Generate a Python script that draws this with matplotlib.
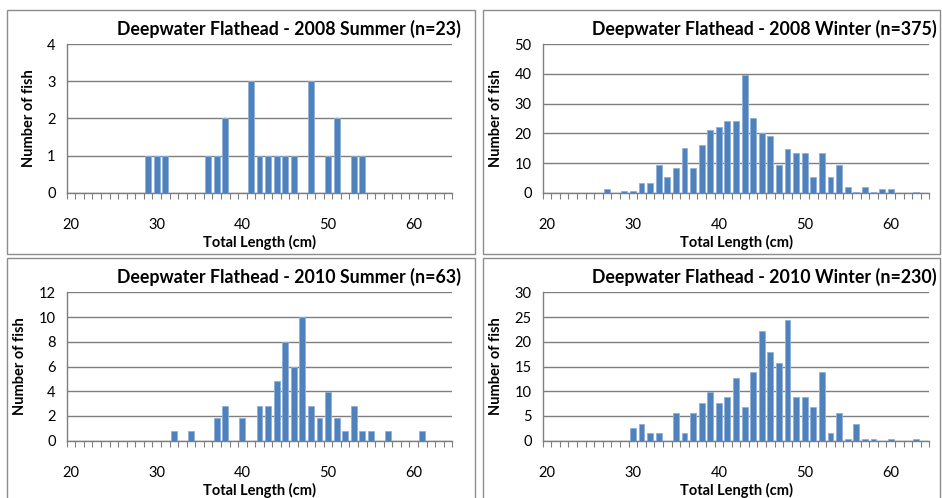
import matplotlib
matplotlib.use('Agg')
import matplotlib.pyplot as plt
from matplotlib.patches import Rectangle
import numpy as np

# 数据：体长 (cm) 与 鱼数
s2008_len = [29, 30, 31, 36, 37, 38, 41, 42, 43, 44, 45, 46, 48, 50, 51, 53, 54]
s2008_cnt = [1, 1, 1, 1, 1, 2, 3, 1, 1, 1, 1, 1, 3, 1, 2, 1, 1]

w2008_len = [27, 29, 30, 31, 32, 33, 34, 35, 36, 37, 38, 39, 40, 41, 42, 43, 44,
             45, 46, 47, 48, 49, 50, 51, 52, 53, 54, 55, 56, 57, 58, 59, 60, 63]
w2008_cnt = [1.3, 0.5, 0.5, 3.3, 3.3, 9.4, 5.3, 8.3, 15, 8.3, 16, 21, 22, 24, 24, 39.5, 25,
             20, 19, 9.3, 14.7, 13.3, 13.3, 5.2, 13.3, 5.2, 9.3, 2.0, 0.4, 2.0, 0.4, 1.1, 1.1, 0.3]

s2010_len = [32, 34, 37, 38, 40, 42, 43, 44, 45, 46, 47, 48, 49, 50, 51, 52, 53, 54, 55, 57, 61]
s2010_cnt = [0.8, 0.8, 1.85, 2.8, 1.85, 2.8, 2.8, 4.85, 8, 6, 10, 2.8, 1.85, 3.9, 1.85, 0.8,
             2.8, 0.8, 0.8, 0.8, 0.8]

w2010_len = [30, 31, 32, 33, 35, 36, 37, 38, 39, 40, 41, 42, 43, 44, 45, 46, 47, 48, 49, 50,
             51, 52, 53, 54, 55, 56, 57, 58, 60, 63]
w2010_cnt = [2.5, 3.4, 1.55, 1.55, 5.5, 1.55, 5.5, 7.55, 9.8, 7.55, 8.8, 12.7, 6.75, 13.9, 22.1,
             17.9, 15.7, 24.3, 8.8, 8.8, 6.75, 13.9, 1.55, 5.5, 0.35, 3.4, 0.35, 0.35, 0.35, 0.35]

titles = ['Deepwater Flathead - 2008 Summer (n=23)',
          'Deepwater Flathead - 2008 Winter (n=375)',
          'Deepwater Flathead - 2010 Summer (n=63)',
          'Deepwater Flathead - 2010 Winter (n=230)']
x_ticks = [20, 30, 40, 50, 60]
y_max = [4, 50, 12, 30]
y_step = [1, 10, 2, 5]

plt.rcParams['font.family'] = ['Lato', 'DejaVu Sans']

W, H = 942, 498
fig = plt.figure(figsize=(W / 100, H / 100), dpi=100)

bar_color = '#4F81BD'
grid_color = '#7f7f7f'

# 各面板位置 (像素)：边框 与 坐标区
boxes = [(7, 10, 475, 254), (483, 10, 940, 254), (7, 258, 475, 500), (483, 258, 940, 500)]
axes_px = [(66.7, 44.3, 452.3, 192.7), (542.7, 44.3, 929.3, 192.7),
           (66.7, 292.3, 452.3, 440.7), (542.7, 292.3, 929.3, 440.7)]
data = [(s2008_len, s2008_cnt), (w2008_len, w2008_cnt),
        (s2010_len, s2010_cnt), (w2010_len, w2010_cnt)]

for i in range(4):
    bx0, by0, bx1, by1 = boxes[i]
    fig.patches.append(Rectangle((bx0 / W, 1 - by1 / H), (bx1 - bx0) / W, (by1 - by0) / H,
                                 transform=fig.transFigure, fill=False,
                                 edgecolor='#8c8c8c', linewidth=1.0))

    x0, y0, x1, y1 = axes_px[i]
    ax = fig.add_axes([x0 / W, 1 - y1 / H, (x1 - x0) / W, (y1 - y0) / H])
    lens, cnts = data[i]
    ax.bar(lens, cnts, width=0.68, color=bar_color, edgecolor='#8fb0da', linewidth=0.6, zorder=3)

    ax.set_xlim(19.5, 64.5)
    ax.set_ylim(0, y_max[i])
    ax.set_yticks(np.arange(0, y_max[i] + 0.1, y_step[i]))
    ax.set_xticks(x_ticks)
    ax.set_xticks(np.arange(19.5, 64.6, 1), minor=True)
    ax.grid(axis='y', color=grid_color, linewidth=1.0, zorder=0)
    ax.set_axisbelow(True)

    for s in ['top', 'right']:
        ax.spines[s].set_visible(False)
    for s in ['left', 'bottom']:
        ax.spines[s].set_color(grid_color)
        ax.spines[s].set_linewidth(1.0)

    ax.tick_params(axis='x', which='major', length=0, pad=18, labelsize=10.5, colors='black')
    ax.tick_params(axis='x', which='minor', length=4, width=0.8, color=grid_color, direction='out')
    ax.tick_params(axis='y', length=0, pad=8, labelsize=10.5)

    ax.set_xlabel('Total Length (cm)', fontsize=10.5, fontweight='bold', labelpad=2)
    ax.set_ylabel('Number of fish', fontsize=10.5, fontweight='bold', labelpad=8)

    # 标题靠右
    tx = (bx0 + 282) if i % 2 == 0 else (bx0 + 281)
    fig.text(tx / W, 1 - (by0 + 19) / H, titles[i], ha='center', va='center',
             fontsize=12.8, fontweight='bold')

fig.savefig('out.png', dpi=100)
